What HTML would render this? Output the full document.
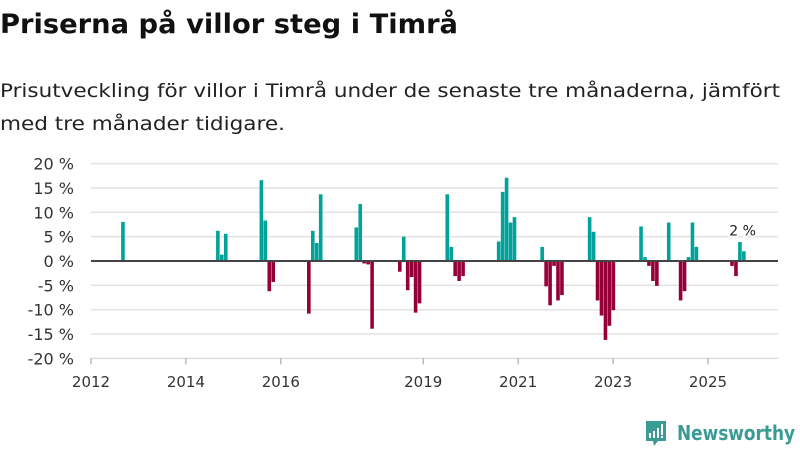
<!DOCTYPE html>
<html><head><meta charset="utf-8"><style>
html,body{margin:0;padding:0;background:#fff;width:800px;height:450px;overflow:hidden}
svg{display:block;font-family:"DejaVu Sans","Liberation Sans",sans-serif}
</style></head><body>
<svg id="chart" width="800" height="450" viewBox="0 0 800 450">
<text x="0" y="33" font-size="27" font-weight="bold" fill="#111" textLength="458" lengthAdjust="spacingAndGlyphs">Priserna på villor steg i Timrå</text>
<text x="0" y="97" font-size="19" fill="#222" textLength="780" lengthAdjust="spacingAndGlyphs">Prisutveckling för villor i Timrå under de senaste tre månaderna, jämfört</text>
<text x="0" y="130" font-size="19" fill="#222" textLength="285" lengthAdjust="spacingAndGlyphs">med tre månader tidigare.</text>
<g id="grid"></g><g id="bars"></g><g id="axes"></g>
<g>
<path d="M646 421h20v20h-8l-4 5-1-5h-7z" fill="#3a9b94"/>
<rect x="649" y="433" width="2" height="5" fill="#fff"/><rect x="653" y="431" width="2" height="7" fill="#fff"/><rect x="657" y="428" width="2" height="10" fill="#fff"/><rect x="661" y="424" width="2" height="11" fill="#fff"/><rect x="661" y="436" width="2" height="2" fill="#fff"/>
<text x="677" y="440" font-size="20" font-weight="bold" fill="#3a9b94" textLength="118" lengthAdjust="spacingAndGlyphs">Newsworthy</text>
</g>
</svg>
<script>
const months = [8,32,33,34,43,44,45,46,55,56,57,58,67,68,69,70,71,78,79,80,81,82,83,90,91,92,93,94,103,104,105,106,107,114,115,116,117,118,119,126,127,128,129,130,131,132,139,140,141,142,143,146,149,150,151,152,153,162,163,164,165];
const values = [8,6.2,1.3,5.6,16.6,8.3,-6.2,-4.3,-10.8,6.2,3.7,13.7,6.9,11.7,-0.5,-0.7,-13.9,-2.2,5,-6,-3.3,-10.6,-8.7,13.7,2.9,-3.1,-4.1,-3.1,4,14.2,17.1,7.9,9,2.9,-5.2,-9.1,-1,-8.1,-7,9,6,-8.1,-11.2,-16.2,-13.3,-10.1,7.1,0.8,-1,-4.1,-5.1,7.9,-8.1,-6.2,0.8,7.9,2.9,-1,-3.1,3.9,2];
const yTicks = [20,15,10,5,0,-5,-10,-15,-20];
const xTickYears = [2012,2014,2016,2019,2021,2023,2025];
const NS='http://www.w3.org/2000/svg';
const x = m => 91 + m*3.955;
const y = v => 261 - v*4.87;
function mk(tag,attrs,parent){const e=document.createElementNS(NS,tag);for(const k in attrs)e.setAttribute(k,attrs[k]);parent.appendChild(e);return e;}
const grid=document.getElementById('grid'),bars=document.getElementById('bars'),axes=document.getElementById('axes');
yTicks.forEach(t=>{
  if(t!==0 && t!==-20){const l=mk('line',{x1:91,x2:778,y1:y(t),y2:y(t),stroke:'#e2e2e2','stroke-width':1.5},grid);
  
  }
  const tx=mk('text',{x:74,y:y(t)+6,'font-size':16,'text-anchor':'end',fill:'#333'},axes);
  tx.textContent=t+' %';
  
  
});
months.forEach((m,i)=>{
  const v=values[i];
  const r=mk('rect',{x:x(m)-1.5,width:3.6,y:Math.min(y(v),y(0)),height:Math.abs(y(v)-y(0)),fill:v>=0?'#00a29a':'#960039'},bars);
  
  
});
const zl=mk('line',{x1:91,x2:778,y1:y(0),y2:y(0),stroke:'#444','stroke-width':2},axes);


const xl=mk('line',{x1:91,x2:778,y1:y(-20),y2:y(-20),stroke:'#ddd','stroke-width':1.5},axes);


xTickYears.forEach(yr=>{
  const px=x((yr-2012)*12);
  const tk=mk('line',{x1:px,x2:px,y1:y(-20),y2:y(-20)+6,stroke:'#999'},axes);
  
  
  const tx=mk('text',{x:px,y:387,'font-size':15,'text-anchor':'middle',fill:'#333'},axes);
  tx.textContent=yr;
  
  
});
const li=months.length-1;
const lab=mk('text',{x:x(months[li])-1,y:y(values[li])-16,'font-size':14,'text-anchor':'middle',fill:'#222',stroke:'#fff','stroke-width':3,'paint-order':'stroke'},axes);
lab.textContent=Math.round(values[li])+' %';


</script>
</body></html>
